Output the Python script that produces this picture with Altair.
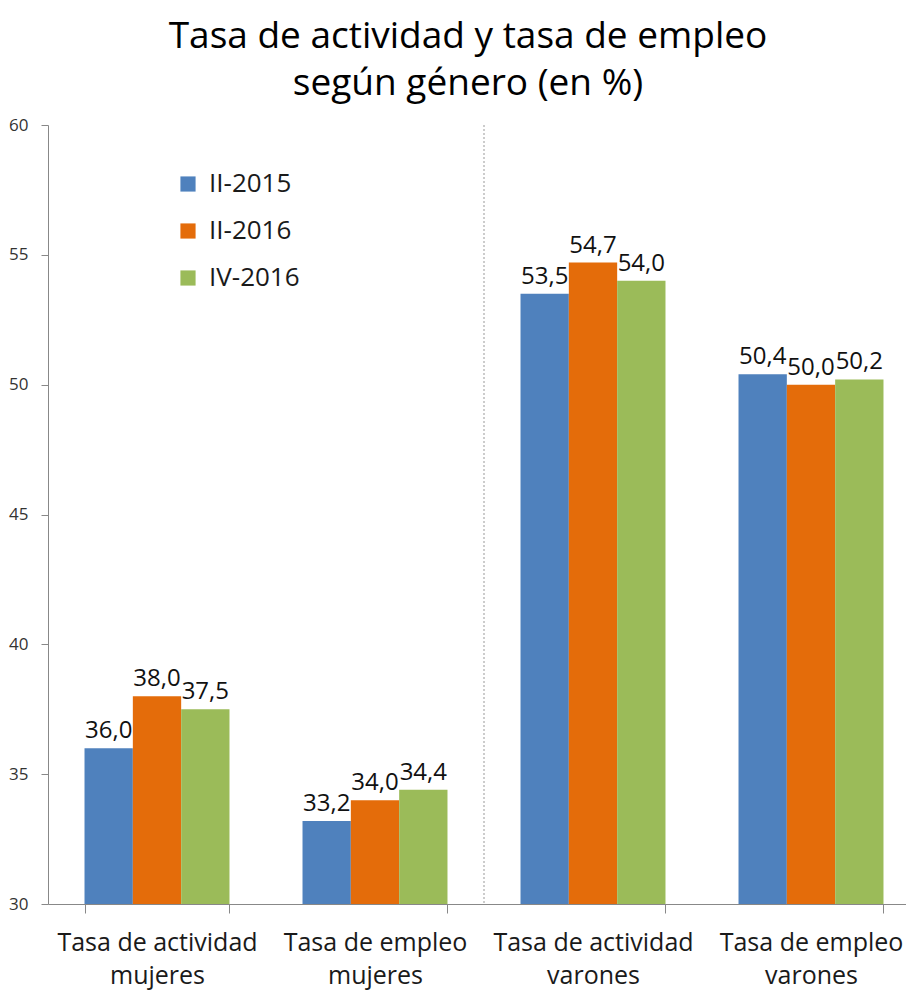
import altair as alt
import pandas as pd

categories = [
    "Tasa de actividad mujeres",
    "Tasa de empleo mujeres",
    "Tasa de actividad varones",
    "Tasa de empleo varones",
]
series = ["II-2015", "II-2016", "IV-2016"]
values_2015_II = [36.0, 33.2, 53.5, 50.4]
values_2016_II = [38.0, 34.0, 54.7, 50.0]
values_2016_IV = [37.5, 34.4, 54.0, 50.2]
colors = ["#4F81BD", "#E46C0A", "#9BBB59"]
y_ticks = [30, 35, 40, 45, 50, 55, 60]

rows = []
for s, vals in zip(series, [values_2015_II, values_2016_II, values_2016_IV]):
    for c, v in zip(categories, vals):
        rows.append({"cat": c, "serie": s, "valor": v,
                     "etiqueta": f"{v:.1f}".replace(".", ",")})
df = pd.DataFrame(rows)

W = 872
H = 779
FONT = "Open Sans"

xenc = alt.X("cat:N", sort=categories, title=None,
             scale=alt.Scale(paddingInner=0.335, paddingOuter=0.1675),
             axis=alt.Axis(labelAngle=0, tickBand="extent", labelFont=FONT,
                           labelFontSize=25, labelColor="#1a1a1a", labelLimit=600,
                           labelLineHeight=33, labelPadding=17, tickSize=9,
                           domainColor="#888888", tickColor="#888888",
                           labelExpr="[slice(datum.label, 0, lastindexof(datum.label, ' ')), slice(datum.label, lastindexof(datum.label, ' ') + 1)]"))
yscale = alt.Scale(domain=[30, 60], nice=False, zero=False, clamp=True)
yenc = alt.Y("valor:Q", scale=yscale, title=None,
             axis=alt.Axis(values=y_ticks, grid=False, labelFont=FONT,
                           labelFontSize=17, labelColor="#333333",
                           labelPadding=13, tickSize=7,
                           domainColor="#888888", tickColor="#888888"))
xoff = alt.XOffset("serie:N", sort=series, scale=alt.Scale(paddingInner=0, paddingOuter=0))
color = alt.Color("serie:N", sort=series,
                  scale=alt.Scale(domain=series, range=colors),
                  legend=alt.Legend(title=None, orient="none", legendX=127, legendY=46,
                                    symbolType="square", symbolSize=230,
                                    symbolStrokeWidth=0, labelFont=FONT,
                                    labelFontSize=26, labelColor="#1a1a1a",
                                    rowPadding=21, labelOffset=8))

base = alt.Chart(df)
bars = base.mark_bar().encode(x=xenc, xOffset=xoff, y=yenc,
                              y2=alt.datum(30), color=color)
labels = base.mark_text(baseline="bottom", dy=-5, font=FONT,
                        fontSize=24, color="#111111").encode(
    x=alt.X("cat:N", sort=categories), xOffset=xoff,
    y=alt.Y("valor:Q", scale=yscale), text="etiqueta:N")
sep = alt.Chart(pd.DataFrame({"v": [0]})).mark_rule(
    color="#999999", strokeDash=[2, 2], strokeWidth=1).encode(
    x=alt.value(W / 2), y=alt.value(0), y2=alt.value(H))

chart = alt.layer(bars, labels, sep).properties(
    width=W, height=H,
    autosize=alt.AutoSizeParams(type="none"),
    padding={"left": 40, "top": 117, "right": -14, "bottom": 90},
    title=alt.TitleParams(["Tasa de actividad y tasa de empleo", "según género (en %)"],
                          font=FONT, fontSize=37, fontWeight="normal",
                          color="#000000", lineHeight=47, offset=13,
                          anchor="middle", dx=-16),
).configure_view(stroke=None)

chart.save("out.html", embed_options={"renderer": "svg", "actions": False})
